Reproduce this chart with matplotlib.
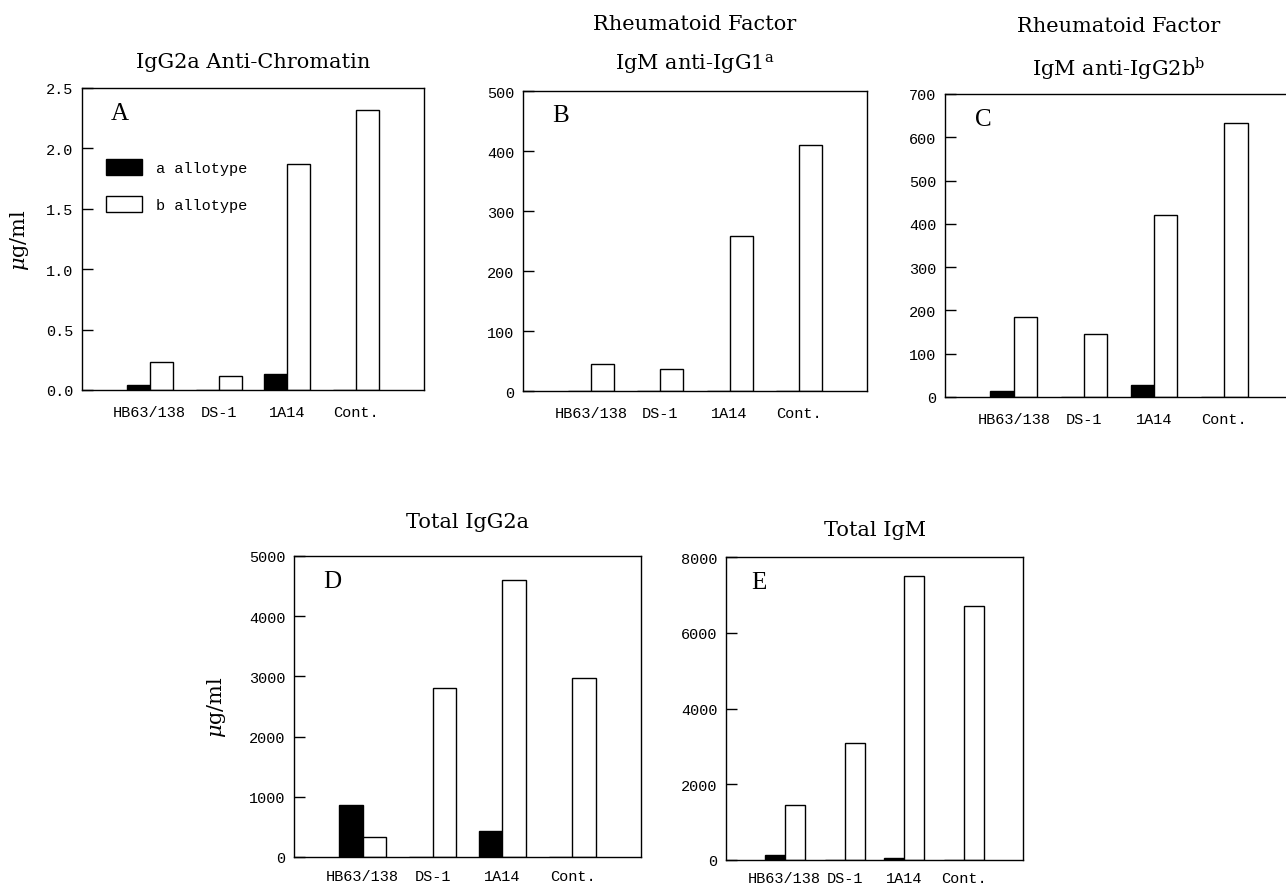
import numpy as np
import matplotlib
matplotlib.use("Agg")
import matplotlib.pyplot as plt
from matplotlib.patches import Patch

plt.rcParams["mathtext.fontset"] = "dejavuserif"

groups = ["HB63/138", "DS-1", "1A14", "Cont."]

# values (ug/ml); 0 = no bar
a_chromatin = [0.04, 0.0, 0.13, 0.0]
b_chromatin = [0.23, 0.12, 1.87, 2.32]
a_rf_igg1 = [0, 0, 0, 0]
b_rf_igg1 = [45, 37, 259, 410]
a_rf_igg2b = [15, 0, 28, 0]
b_rf_igg2b = [184, 145, 421, 633]
a_total_igg2a = [870, 0, 425, 0]
b_total_igg2a = [327, 2800, 4600, 2980]
a_total_igm = [140, 0, 55, 0]
b_total_igm = [1450, 3100, 7500, 6700]

W, H = 1286, 887
fig = plt.figure(figsize=(W / 100, H / 100), dpi=100)

def px_axes(l, r, t, b):
    return fig.add_axes([l / W, 1 - b / H, (r - l) / W, (b - t) / H])

TICK_FONT = "Liberation Mono"
SERIF = "DejaVu Serif"
LETTER_FONT = "Liberation Serif"

def draw_panel(ax, a_vals, b_vals, ymax, yticks, fmt, letter, title, title_pad, xpad=11):
    x = np.arange(1, len(groups) + 1)
    w = 1 / 3
    ax.bar(x - w / 2, a_vals, width=w, color="black", edgecolor="black", linewidth=1.0)
    ax.bar(x + w / 2, b_vals, width=w, color="white", edgecolor="black", linewidth=1.0)
    ax.set_xlim(0.02, 4.98)
    ax.set_ylim(0, ymax)
    ax.set_yticks(yticks)
    ax.set_yticklabels([fmt.format(v) for v in yticks], fontfamily=TICK_FONT, fontsize=11)
    ax.set_xticks(x)
    ax.set_xticklabels(groups, fontfamily=TICK_FONT, fontsize=11)
    ax.tick_params(axis="y", direction="in", length=8, width=1, pad=6)
    ax.tick_params(axis="x", length=0, pad=xpad)
    for s in ax.spines.values():
        s.set_linewidth(1.0)
    ax.text(0.085, 0.955, letter, transform=ax.transAxes, ha="left", va="top",
            fontfamily=LETTER_FONT, fontsize=18)
    ax.set_title(title, fontfamily=SERIF, fontsize=15, pad=title_pad, linespacing=2.0)

axA = px_axes(82, 424, 89, 391)
draw_panel(axA, a_chromatin, b_chromatin, 2.5, [0, 0.5, 1.0, 1.5, 2.0, 2.5], "{:.1f}",
           "A", "IgG2a Anti-Chromatin", 15)
axA.set_ylabel(r"$\mu$g/ml", fontfamily=SERIF, fontsize=15)
axA.yaxis.set_label_coords(-0.15, 0.5)
handles = [Patch(facecolor="black", edgecolor="black", label="a allotype"),
           Patch(facecolor="white", edgecolor="black", label="b allotype")]
axA.legend(handles=handles, loc="upper left", bbox_to_anchor=(0.047, 0.79), frameon=False,
           prop={"family": TICK_FONT, "size": 11}, handlelength=2.4, handleheight=1.2,
           handletextpad=0.9, labelspacing=1.4, borderpad=0)

axB = px_axes(523, 867, 92, 392)
draw_panel(axB, a_rf_igg1, b_rf_igg1, 500, [0, 100, 200, 300, 400, 500], "{:d}",
           "B", "Rheumatoid Factor\nIgM anti-IgG1$^{\\rm a}$", 16)

axC = px_axes(945, 1293, 95, 398)
draw_panel(axC, a_rf_igg2b, b_rf_igg2b, 700, [0, 100, 200, 300, 400, 500, 600, 700], "{:d}",
           "C", "Rheumatoid Factor\nIgM anti-IgG2b$^{\\rm b}$", 13)

axD = px_axes(294, 641, 557, 858)
draw_panel(axD, a_total_igg2a, b_total_igg2a, 5000, [0, 1000, 2000, 3000, 4000, 5000], "{:d}",
           "D", "Total IgG2a", 21, xpad=9)
axD.set_ylabel(r"$\mu$g/ml", fontfamily=SERIF, fontsize=15)
axD.yaxis.set_label_coords(-0.19, 0.5)

axE = px_axes(726, 1023, 558, 861)
draw_panel(axE, a_total_igm, b_total_igm, 8000, [0, 2000, 4000, 6000, 8000], "{:d}",
           "E", "Total IgM", 16, xpad=8)

fig.savefig("out.png", dpi=100)
